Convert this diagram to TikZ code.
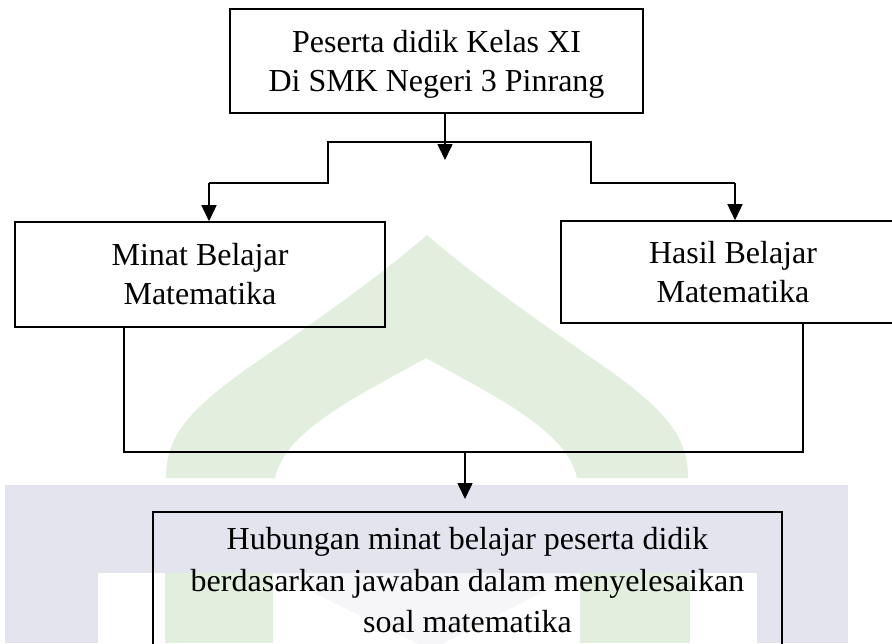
\documentclass[tikz,border=0pt]{standalone}
\usepackage{fontspec}
\setmainfont{Liberation Serif}
\usetikzlibrary{arrows.meta}
\definecolor{wmhijau}{RGB}{226,239,222}
\definecolor{wmabu}{RGB}{228,228,239}

\begin{document}
\begin{tikzpicture}[x=1pt, y=-1pt,
    kotak/.style={draw, line width=1.6pt, align=center, inner sep=0pt, font=\fontsize{32}{39}\selectfont},
    panah/.style={-{Triangle[length=16pt, width=15pt]}, line width=1.6pt},
    garis/.style={line width=1.6pt}]
    \useasboundingbox (0, 0) rectangle (892, 643);
    % watermark di belakang
    \fill[wmabu] (5, 485) rectangle (848, 573);
    \fill[wmabu] (5, 573) rectangle (98, 643);
    \fill[wmabu] (757, 573) rectangle (848, 643);
    \fill[wmabu!35] (273, 573) -- (580, 573) -- (430, 650) -- cycle;
    \fill[wmhijau] (165, 573) rectangle (273, 643);
    \fill[wmhijau] (580, 573) rectangle (690, 643);
    \fill[wmhijau] (166, 478) .. controls (166, 435) and (190, 410) .. (245, 370)
        .. controls (310, 325) and (375, 280) .. (427, 235)
        .. controls (479, 280) and (544, 325) .. (609, 370)
        .. controls (664, 410) and (688, 435) .. (688, 478) -- (577, 478)
        .. controls (567, 430) and (492, 395) .. (426, 358)
        .. controls (360, 395) and (285, 430) .. (275, 478) -- cycle;
    % kotak
    \node[kotak, minimum width=413pt, minimum height=104pt, text depth=0pt] (peserta) at (436.5, 61) {Peserta didik Kelas XI\\Di SMK Negeri 3 Pinrang};
    \node[kotak, minimum width=370pt, minimum height=105pt] (minat) at (200, 274.5) {Minat Belajar\\Matematika};
    \node[kotak, minimum width=344pt, minimum height=102pt] (hasil) at (733, 272) {Hasil Belajar\\Matematika};
    \node[kotak, minimum width=629pt, minimum height=137pt, font=\fontsize{32}{41.5}\selectfont] (hubungan) at (467.5, 580.5) {Hubungan minat belajar peserta didik\\berdasarkan jawaban dalam menyelesaikan\\soal matematika};
    % panah atas
    \coordinate (ujung1) at (445, 160);
    \draw[panah] (peserta.south -| ujung1) -- (ujung1);
    \coordinate (kiri) at (209, 183);
    \coordinate (kanan) at (735, 183);
    \draw[garis] (kiri) -| (328, 142) -| (591, 183) -- (kanan);
    \draw[panah] (kiri) -- (kiri |- minat.north);
    \draw[panah] (kanan) -- (kanan |- hasil.north);
    % panah bawah
    \coordinate (bawahkiri) at (124, 452);
    \coordinate (bawahkanan) at (803, 452);
    \draw[garis] (minat.south -| bawahkiri) -- (bawahkiri) -- (bawahkanan) -- (hasil.south -| bawahkanan);
    \coordinate (tengah) at (465, 452);
    \coordinate (ujung2) at (465, 499);
    \draw[panah] (tengah) -- (ujung2);
\end{tikzpicture}
\end{document}
